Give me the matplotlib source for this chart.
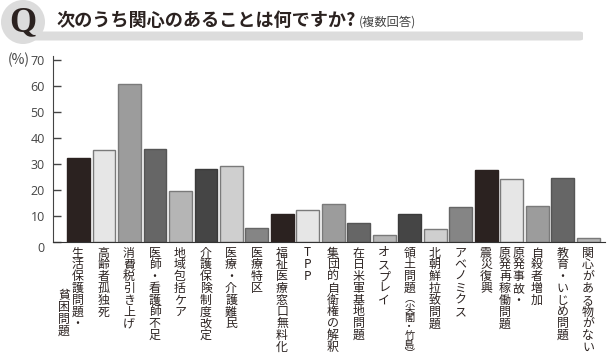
import matplotlib
matplotlib.use("Agg")
import matplotlib.pyplot as plt
from matplotlib.patches import Circle, FancyBboxPatch
from matplotlib.transforms import blended_transform_factory, Affine2D

plt.rcParams['font.family'] = ['Noto Sans CJK JP', 'DejaVu Sans']

# first entry of each tuple is the main column, second one the column left of it
labels = [("生活保護問題・", "貧困問題"), ("高齢者孤独死",), ("消費税引き上げ",), ("医師・看護師不足",),
          ("地域包括ケア",), ("介護保険制度改定",), ("医療・介護難民",), ("医療特区",),
          ("福祉医療窓口無料化",), ("TPP",), ("集団的自衛権の解釈",), ("在日米軍基地問題",),
          ("オスプレイ",), ("領土問題",), ("北朝鮮拉致問題",), ("アベノミクス",),
          ("震災復興",), ("原発事故・", "原発再稼働問題"), ("自殺者増加",), ("教育・いじめ問題",),
          ("関心がある物がない",)]
values = [32.3, 35.5, 60.9, 36.0, 19.8, 28.2, 29.5, 5.6, 10.8, 12.3, 14.6,
          7.3, 2.8, 10.8, 5.0, 13.6, 27.7, 24.2, 14.0, 24.8, 1.5]
small_note = "︵尖閣・竹島︶"
yticks = [0, 10, 20, 30, 40, 50, 60, 70]

fills = ["#2b2220", "#e6e6e6", "#9c9c9c", "#666666", "#b5b5b5", "#454545", "#cfcfcf", "#858585"]
edges = ["#2b2220", "#7a7a7a", "#7a7a7a", "#555555", "#7a7a7a", "#3a3a3a", "#7a7a7a", "#666666"]
W, H = 607, 360
TEXT = "#2b2220"

fig = plt.figure(figsize=(W / 100, H / 100), dpi=100)
ax = fig.add_axes([53 / W, 1 - 242.3 / H, (605 - 53) / W, (242.3 - 56) / H])
ax.patch.set_visible(False)

colors = [fills[i % 8] for i in range(len(values))]
ecolors = [edges[i % 8] for i in range(len(values))]
ax.bar(range(len(values)), values, width=0.9, color=colors, edgecolor=ecolors, linewidth=1.0)
ax.set_xlim(-1, 20.65)
ax.set_ylim(0, 71.65)

for s in ["top", "right"]:
    ax.spines[s].set_visible(False)
ax.spines["left"].set_color("#444444")
ax.spines["bottom"].set_color("#333333")
ax.set_xticks([])
ax.set_yticks(yticks)
ax.tick_params(axis="y", direction="in", length=6, width=1, color="#444444", pad=6,
               labelcolor="#444444")
for t in ax.get_yticklabels():
    t.set_fontfamily("Open Sans")
    t.set_fontsize(9)
ax.get_yticklabels()[0].set_verticalalignment("top")

# vertical labels, set one character at a time under the bars
trans = blended_transform_factory(ax.transData, fig.dpi_scale_trans)
def px_y(y):
    return (H - y) / 100

def vtext(i, dx, chars, top, pitch=11.8, size=8.6):
    for k, c in enumerate(chars):
        ax.text(i, px_y(top + pitch * k), c, transform=trans + Affine2D().translate(dx, 0),
                ha="center", va="center", fontsize=size, color=TEXT, clip_on=False)

for i, lab in enumerate(labels):
    if len(lab) == 1:
        vtext(i, -0.5, lab[0], 253)
    elif i == 0:
        vtext(i, -1, lab[0], 253)
        vtext(i, -14.5, lab[1], 296)
    else:
        vtext(i, 6.5, lab[0], 253)
        vtext(i, -7, lab[1], 253)
vtext(13, -0.5, small_note, 299, pitch=9.2, size=7.4)

# header: grey circle and rounded bar with the question
fig.add_artist(FancyBboxPatch((30 / W, 1 - 40.5 / H), 553 / W, 9 / H, boxstyle="round,pad=0,rounding_size=0.007",
                              transform=fig.transFigure, fc="#dcdcdc", ec="none", mutation_aspect=H / W))
head = Circle((23 / 100, (H - 22) / 100), 22 / 100, transform=fig.dpi_scale_trans, fc="#dcdcdc", ec="none")
fig.add_artist(head)
fig.text(23 / W, 1 - 23 / H, "Q", ha="center", va="center", fontsize=25, fontweight="bold",
         family="Liberation Serif", color=TEXT)
fig.text(56 / W, 1 - 20 / H, "次のうち関心のあることは何ですか?", ha="left", va="center", fontsize=13.1,
         fontweight="bold", color=TEXT)
fig.text(359 / W, 1 - 22 / H, "(複数回答)", ha="left", va="center", fontsize=8.8, color="#444444")
fig.text(8 / W, 1 - 60 / H, "(%)", ha="left", va="center", fontsize=10, color="#444444")

fig.savefig("out.png", dpi=100)
